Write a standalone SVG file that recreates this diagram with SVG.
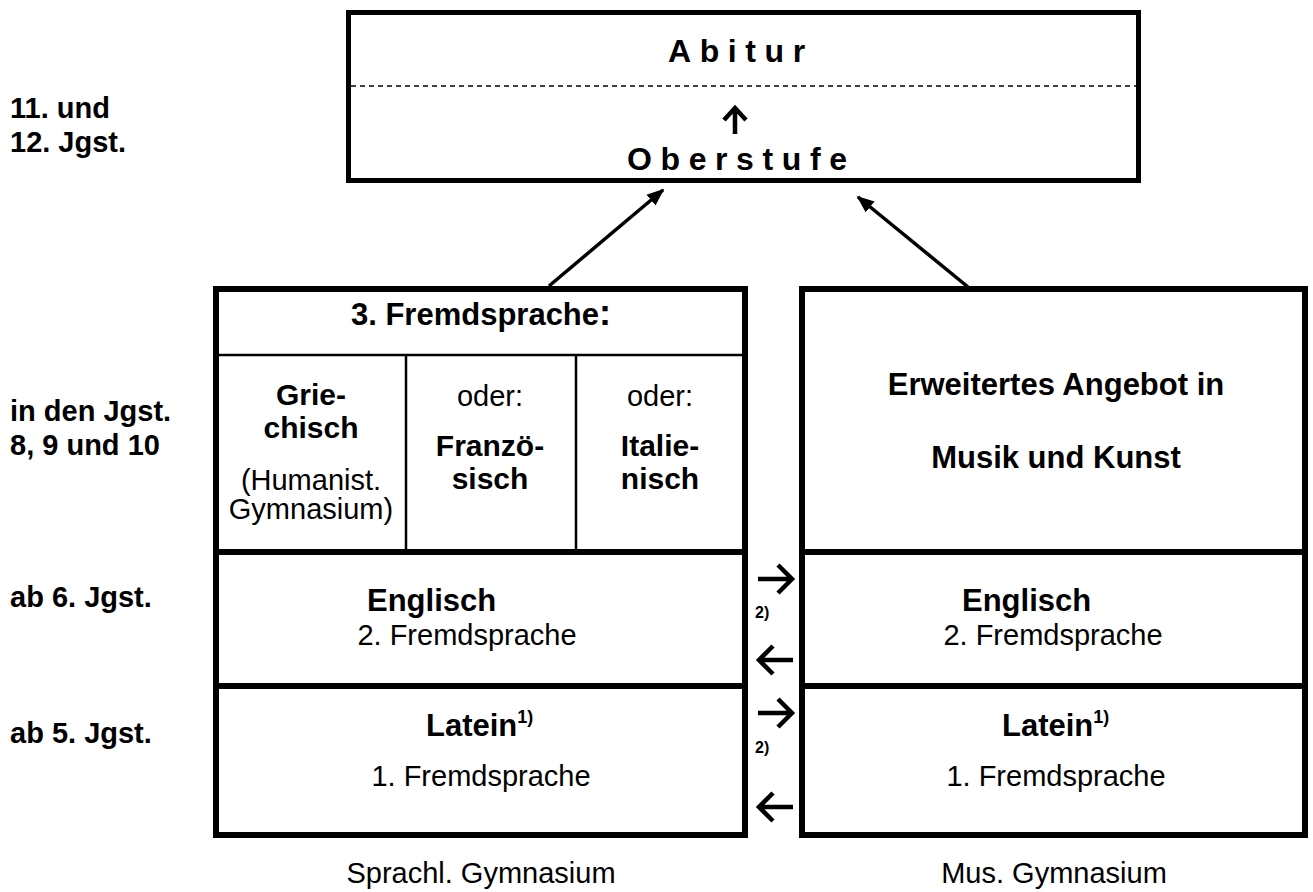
<svg xmlns="http://www.w3.org/2000/svg" width="1313" height="892" viewBox="0 0 1313 892">
<style>
.b{font-family:"Liberation Sans",Arial,sans-serif;font-weight:bold;font-size:31px;fill:#000}
.r{font-family:"Liberation Sans",Arial,sans-serif;font-size:29px;fill:#000}
.c{text-anchor:middle}
.lab{font-size:29px}
.cell{font-size:30px}
.box{fill:#fff;stroke:#000;stroke-width:6}
.thick{stroke:#000;stroke-width:6}
.thin{stroke:#000;stroke-width:2.5}
.arr{fill:none;stroke:#000;stroke-width:4.5}
.sup{font-size:18px}
.note{font-size:16px}
.sp{font-size:32px;letter-spacing:8.6px}
</style>
<defs>
<marker id="ah" viewBox="0 0 10 10" refX="9" refY="5" markerWidth="5" markerHeight="5" orient="auto" markerUnits="strokeWidth">
<path d="M0,1 L10,5 L0,9 z" fill="#000"/>
</marker>
</defs>
<g id="labels">
<text class="b lab" x="10" y="118">11. und</text>
<text class="b lab" x="10" y="152">12. Jgst.</text>
<text class="b lab" x="10" y="421">in den Jgst.</text>
<text class="b lab" x="10" y="455">8, 9 und 10</text>
<text class="b lab" x="10" y="607">ab 6. Jgst.</text>
<text class="b lab" x="10" y="743">ab 5. Jgst.</text>
<text class="r c" x="481" y="883" font-size="30">Sprachl. Gymnasium</text>
<text class="r c" x="1054" y="883" font-size="30">Mus. Gymnasium</text>
</g>
<g id="top">
<rect x="348.5" y="12.5" width="790" height="168" fill="#fff" stroke="#000" stroke-width="5"/>
<line x1="351" y1="86" x2="1138" y2="86" stroke="#000" stroke-width="1.5" stroke-dasharray="5,4"/>
<text class="b sp" x="668" y="62">Abitur</text>
<path class="arr" d="M735,134 V110 M724,120 L735,108 L746,120" stroke-width="3.5"/>
<text class="b sp" x="627" y="170">Oberstufe</text>
</g>
<g id="left">
<rect class="box" x="216" y="289" width="529" height="546"/>
<line class="thin" x1="216" y1="355" x2="745" y2="355"/>
<line class="thin" x1="406" y1="355" x2="406" y2="550"/>
<line class="thin" x1="576" y1="355" x2="576" y2="550"/>
<line class="thick" x1="216" y1="552" x2="745" y2="552"/>
<line class="thick" x1="216" y1="686" x2="745" y2="686"/>
<text class="b c" x="481" y="325" font-size="32">3. Fremdsprache<tspan font-size="36">:</tspan></text>
<text class="b c cell" x="311" y="405">Grie-</text>
<text class="b c cell" x="311" y="438">chisch</text>
<text class="r c" x="311" y="490" font-size="26">(Humanist.</text>
<text class="r c" x="311" y="519" font-size="26">Gymnasium)</text>
<text class="r c" x="490" y="406">oder:</text>
<text class="b c cell" x="490" y="456">Franzö-</text>
<text class="b c cell" x="490" y="489">sisch</text>
<text class="r c" x="660" y="406">oder:</text>
<text class="b c cell" x="660" y="456">Italie-</text>
<text class="b c cell" x="660" y="489">nisch</text>
<text class="b" x="367" y="611">Englisch</text>
<text class="r c" x="467" y="645">2. Fremdsprache</text>
<text class="b" x="426" y="736">Latein<tspan class="sup" dy="-13">1)</tspan></text>
<text class="r c" x="481" y="786">1. Fremdsprache</text>
</g>
<g id="right">
<rect class="box" x="802" y="289" width="503" height="546"/>
<line class="thick" x1="802" y1="552" x2="1305" y2="552"/>
<line class="thick" x1="802" y1="686" x2="1305" y2="686"/>
<text class="b c" x="1056" y="395">Erweitertes Angebot in</text>
<text class="b c" x="1056" y="468">Musik und Kunst</text>
<text class="b" x="962" y="611">Englisch</text>
<text class="r c" x="1053" y="645">2. Fremdsprache</text>
<text class="b" x="1002" y="736">Latein<tspan class="sup" dy="-13">1)</tspan></text>
<text class="r c" x="1056" y="786">1. Fremdsprache</text>
</g>
<g id="connectors">
<line x1="549" y1="286" x2="663" y2="190" stroke="#000" stroke-width="3.5" marker-end="url(#ah)"/>
<line x1="968" y1="287" x2="858" y2="197" stroke="#000" stroke-width="3.5" marker-end="url(#ah)"/>
<path class="arr" d="M758,579 H792 M778,565 L792,579 L778,593"/>
<text class="b note" x="755" y="618">2)</text>
<path class="arr" d="M793,660 H760 M773,646 L759,660 L773,674"/>
<path class="arr" d="M758,713 H792 M778,699 L792,713 L778,727"/>
<text class="b note" x="755" y="753">2)</text>
<path class="arr" d="M793,807 H760 M773,793 L759,807 L773,821"/>
</g>
</svg>
